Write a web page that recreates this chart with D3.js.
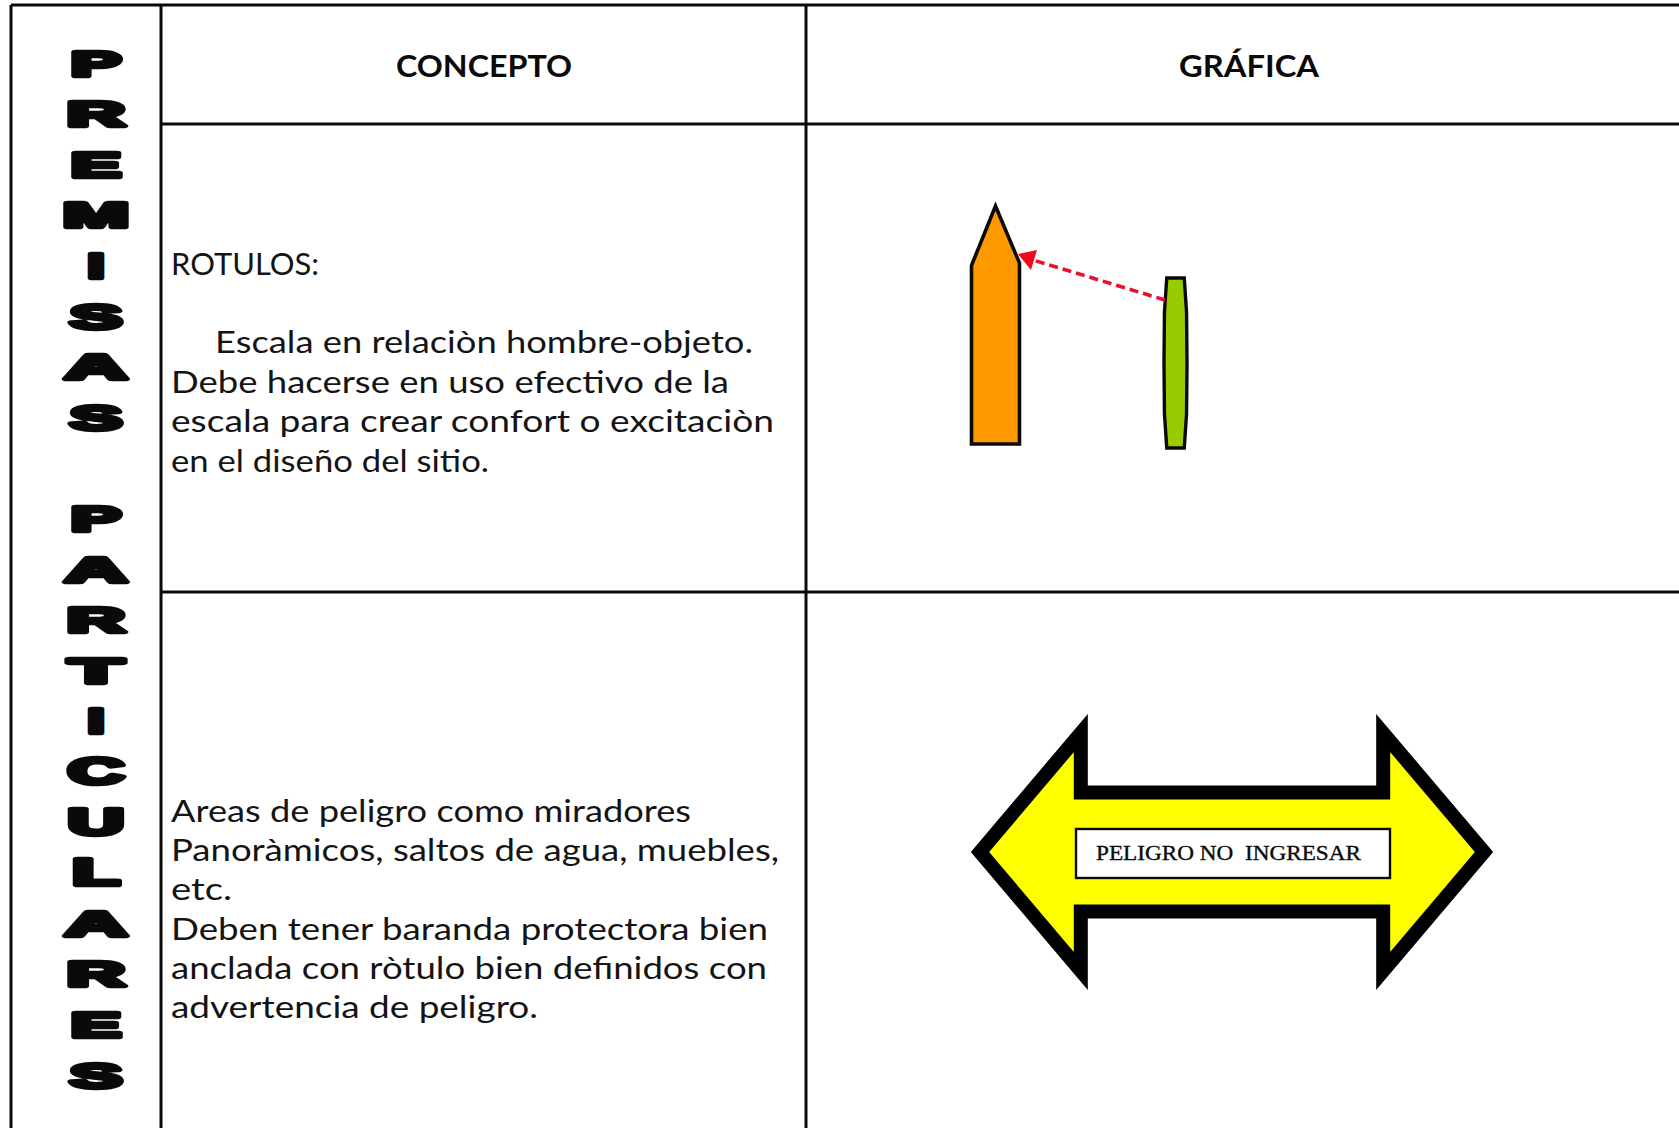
<!DOCTYPE html>
<html><head><meta charset="utf-8">
<script src="https://cdn.jsdelivr.net/npm/d3@7/dist/d3.min.js"></script>
<style>html,body{margin:0;padding:0;background:#fff;overflow:hidden}svg{display:block}</style>
</head><body><svg id="c" width="1679" height="1128"></svg>
<script>
const sideLetters = ["P","R","E","M","I","S","A","S","","P","A","R","T","I","C","U","L","A","R","E","S"];
const letterWidths = {P:50,R:58,E:50,M:66,I:17,S:52,A:62,T:54,C:56,U:56,L:47};
const headers = ["CONCEPTO","GRÁFICA"];
const rowLines1 = ["ROTULOS:","","Escala en relaciòn hombre-objeto.","Debe hacerse en uso efectivo de la","escala para crear confort o excitaciòn","en el diseño del sitio."];
const rowLines2 = ["Areas de peligro como miradores","Panoràmicos, saltos de agua, muebles,","etc.","Deben tener baranda protectora bien","anclada con ròtulo bien definidos con","advertencia de peligro."];
const signLabel = "PELIGRO NO\u00a0\u00a0INGRESAR";
// outlines in unit coordinates of each figure's own box
const orangeOutline = [[0.5,0],[1,0.24],[1,1],[0,1],[0,0.25]];
const greenOutline = [[0.12,0],[0.88,0],[0.98,0.2],[1,0.5],[0.98,0.8],[0.88,1],[0.12,1],[0.02,0.8],[0,0.5],[0.02,0.2]];
const signOutline = [[0,0.5],[0.2,0],[0.2,0.25],[0.8,0.25],[0.8,0],[1,0.5],[0.8,1],[0.8,0.75],[0.2,0.75],[0.2,1]];

const svg = d3.select("#c");
const W = 1679, H = 1128;
const black = "#0a0a0a";
const xGrid = [11,161,806,W+5], yGrid = [5,124,592,H+5];

// table
const grid = svg.append("g").attr("stroke",black).attr("stroke-width",3);
grid.selectAll(".v").data([xGrid[0],xGrid[1],xGrid[2]]).join("line").attr("x1",d=>d).attr("x2",d=>d).attr("y1",yGrid[0]).attr("y2",H);
grid.append("line").attr("x1",xGrid[0]).attr("x2",W).attr("y1",yGrid[0]).attr("y2",yGrid[0]);
grid.selectAll(".h").data([yGrid[1],yGrid[2]]).join("line").attr("x1",xGrid[1]).attr("x2",W).attr("y1",d=>d).attr("y2",d=>d);

// side title
const yLetter = d3.scaleLinear().domain([0,sideLetters.length-1]).range([75.5,1087.5]);
svg.append("g").selectAll("text").data(sideLetters.map((c,i)=>({c,i})).filter(d=>d.c)).join("text")
 .text(d=>d.c).attr("text-anchor","middle")
 .attr("font-family","Liberation Sans").attr("font-weight",700).attr("font-size",36)
 .attr("fill",black).attr("stroke",black).attr("stroke-width",4.6)
 .attr("stroke-linejoin","round")
 .attr("transform",function(d){const s=letterWidths[d.c]/this.getComputedTextLength();return `translate(96,${yLetter(d.i)}) scale(${s},1)`;});

// headers
svg.append("g").selectAll("text").data(headers).join("text").text(d=>d)
 .attr("x",(d,i)=>[484,1249][i]).attr("y",77).attr("text-anchor","middle")
 .attr("font-family","Lato").attr("font-weight",700).attr("font-size",30).attr("fill",black)
 .attr("textLength",(d,i)=>[176,140][i]).attr("lengthAdjust","spacingAndGlyphs");

// body copy
function block(lines,y0,step,widths,indents){
 const y=d3.scaleLinear().domain([0,1]).range([y0,y0+step]);
 svg.append("g").selectAll("text").data(lines).join("text").text(d=>d)
  .attr("x",(d,i)=>171+(indents[i]||0)).attr("y",(d,i)=>y(i))
  .attr("font-family","Lato").attr("font-size",31).attr("fill","#141414")
  .attr("textLength",(d,i)=>widths[i]||null).attr("lengthAdjust","spacingAndGlyphs");
}
block(rowLines1,274.5,39.4,[148,0,538,558,603,318],{2:44});
block(rowLines2,822,39.2,[520,608,61,597,596,367],{});

// figure helper
function figure(points,x0,x1,y0,y1,attrs){
 const x=d3.scaleLinear().domain([0,1]).range([x0,x1]), y=d3.scaleLinear().domain([0,1]).range([y0,y1]);
 const p=svg.append("path").attr("d",d3.line().x(d=>x(d[0])).y(d=>y(d[1])).curve(d3.curveLinearClosed)(points));
 Object.entries(attrs).forEach(([k,v])=>p.attr(k,v));
 return p;
}
figure(orangeOutline,971.5,1019.5,206,444,{fill:"#FF9900",stroke:black,"stroke-width":3.6});
figure(greenOutline,1164,1187,278,448,{fill:"#99CC00",stroke:black,"stroke-width":3.4});

// red leader
svg.append("line").attr("x1",1165).attr("y1",300).attr("x2",1033).attr("y2",260)
 .attr("stroke","#E8102A").attr("stroke-width",3.6).attr("stroke-dasharray","9 5");
svg.append("path").attr("d","M1018,254L1037,250L1031,270Z").attr("fill","#EE0A1E");

// sign
figure(signOutline,980,1484,733,971,{fill:"#FFFF00",stroke:"#000","stroke-width":14,"stroke-miterlimit":10});
svg.append("rect").attr("x",1076).attr("y",829).attr("width",314).attr("height",49).attr("fill","#fff").attr("stroke",black).attr("stroke-width",2.4);
svg.append("text").text(signLabel).attr("x",1096).attr("y",860).attr("font-family","Liberation Serif").attr("font-size",21).attr("fill",black).attr("stroke",black).attr("stroke-width",0.35)
 .attr("textLength",265).attr("lengthAdjust","spacingAndGlyphs");
</script></body></html>
